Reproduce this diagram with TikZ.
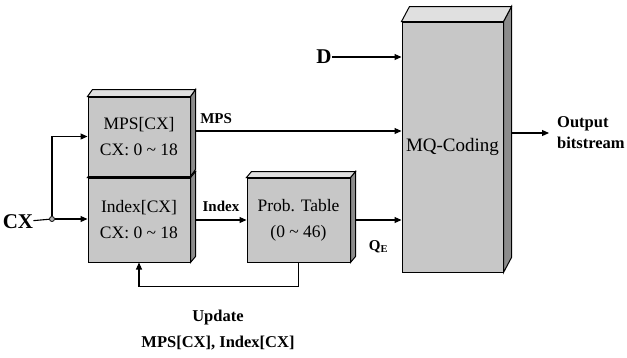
\documentclass[tikz,border=0pt]{standalone}
\usepackage{fontspec}
\setmainfont{Liberation Serif}
\usetikzlibrary{arrows.meta,calc}
\tikzset{
  front/.style={draw,fill=black!22,line width=1pt,inner sep=0pt,align=center,font=\fontsize{17.5}{26}\selectfont},
  sidefill/.style={draw,fill=black!45,line width=1pt},
  topfill/.style={draw,fill=black!12,line width=1pt},
  lbl/.style={font=\bfseries\fontsize{15}{17}\selectfont,inner sep=0pt},
  conn/.style={line width=1.1pt,-{Triangle[length=7pt,width=6pt]}},
  plain/.style={line width=1.1pt}
}
\newcommand\boxfaces[3]{%
  \draw[sidefill] (#1.north east) -- ++(#2,-#3) -- ($(#1.south east)+(#2,-#3)$) -- (#1.south east) -- cycle;
  \draw[topfill] (#1.north west) -- ++(#2,-#3) -- ($(#1.north east)+(#2,-#3)$) -- (#1.north east) -- cycle;}
\begin{document}
\begin{tikzpicture}[x=1pt,y=-1pt]
\useasboundingbox (0,0) rectangle (627,357);
% boxes
\node[front,minimum width=102pt,minimum height=84pt] (idx) at (139,220) {Index[CX]\\CX: 0 \char`~\ 18};
\boxfaces{idx}{5}{6}
\node[front,minimum width=102pt,minimum height=79pt] (mps) at (139,136.5) {MPS[CX]\\CX: 0 \char`~\ 18};
\boxfaces{mps}{5}{7}
\node[front,minimum width=103pt,minimum height=84pt] (pt) at (298.5,220) {Prob. Table\\(0 \char`~\ 46)};
\boxfaces{pt}{5}{6}
\node[front,minimum width=101pt,minimum height=250pt,font=\fontsize{19}{22}\selectfont] (mq) at (452.5,147) {MQ-Coding};
\boxfaces{mq}{8}{15}
% labels
\node[lbl,font=\bfseries\fontsize{21}{22}\selectfont] (cx) at (18,222) {CX};
\node[lbl,font=\bfseries\fontsize{21}{22}\selectfont] (d) at (324,57) {D};
\node[lbl,anchor=west,align=left,font=\bfseries\fontsize{16.5}{21}\selectfont] (out) at (557,133) {Output\\bitstream};
\node[lbl,align=center,font=\bfseries\fontsize{16.5}{26}\selectfont] (upd) at (218,330) {Update\\MPS[CX], Index[CX]};
% junction
\node[draw,circle,fill=black!30,line width=0.8pt,inner sep=0pt,minimum size=5pt] (j) at (52,219) {};
% connectors
\draw[plain] (cx) -- (j);
\draw[conn] (j) -- (j -| idx.west);
\draw[conn] (j) |- (mps.west);
\draw[conn] ([xshift=5pt,yshift=5.5pt]mps.east) -- node[lbl,above=7pt,pos=0.1] {MPS} ([yshift=5.5pt]mps.east -| mq.west);
\draw[conn] ([xshift=5pt]idx.east) -- node[lbl,above=8pt] {Index} (pt.west);
\draw[conn] ([xshift=5pt]pt.east) -- node[lbl,below=20pt,pos=0.5] {Q\textsubscript{E}} (pt.east -| mq.west);
\draw[conn] (d) -- (d -| mq.west);
\draw[conn] ([xshift=8pt,yshift=14pt]mq.east) -- ([xshift=-8pt,yshift=14pt]mq.east -| out.west);
\draw[conn] (pt.south) -- ++(0,24) -| (idx.south);
\end{tikzpicture}
\end{document}
